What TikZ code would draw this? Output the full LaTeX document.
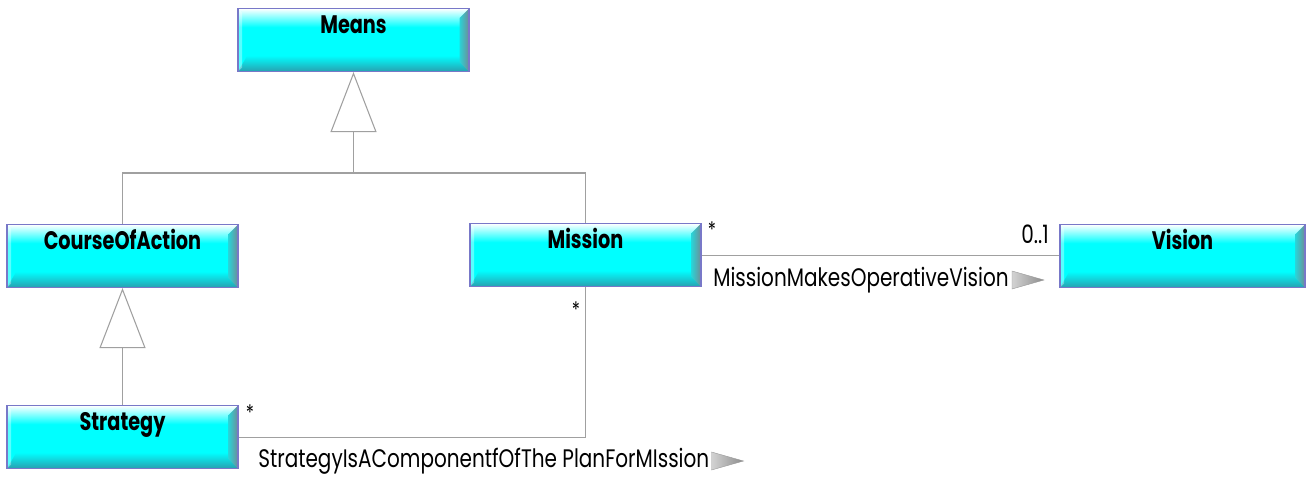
\documentclass[tikz,border=0pt]{standalone}
\usepackage{fontspec}
\usepackage{tikz}
\usetikzlibrary{arrows.meta,calc}
\newfontfamily\umlfont[FakeStretch=0.76]{Poppins}
\newfontfamily\assocfont[FakeStretch=0.79]{Poppins}
\definecolor{boxedge}{RGB}{120,120,200}
\definecolor{boxfill}{RGB}{0,255,255}
\definecolor{boxdark}{RGB}{40,160,175}
\definecolor{bevelgray}{RGB}{110,140,150}
\definecolor{linegray}{RGB}{160,160,160}

\begin{document}
\begin{tikzpicture}[x=0.75pt,y=-0.75pt,
  umlclass/.style={draw=boxedge, fill=boxfill, line width=0.8pt, anchor=north,
    minimum height=47.25pt, inner ysep=3.25pt, text height=15.5pt, text depth=25.25pt,
    font=\umlfont\bfseries\fontsize{19}{22}\selectfont,
    path picture={
      \coordinate (nw) at (path picture bounding box.north west);
      \coordinate (ne) at (path picture bounding box.north east);
      \coordinate (sw) at (path picture bounding box.south west);
      \coordinate (se) at (path picture bounding box.south east);
      \shade[top color=white, bottom color=boxfill] (nw) rectangle ($(ne)+(0,-14pt)$);
      \shade[top color=boxfill, bottom color=boxdark] ($(sw)+(7pt,12pt)$) -- ($(se)+(-7pt,12pt)$) -- (se) -- (sw) -- cycle;
      \shade[left color=boxfill!60!bevelgray, right color=bevelgray] (ne) -- (se) -- ($(se)+(-7pt,7pt)$) -- ($(ne)+(-7pt,-7pt)$) -- cycle;
      \fill[white, opacity=0.35] (nw) -- (sw) -- ($(sw)+(3pt,3pt)$) -- ($(nw)+(3pt,-3pt)$) -- cycle;
    }},
  genline/.style={draw=linegray, line width=0.8pt},
  gentip/.style={-{Triangle[open, length=45pt, width=34.5pt, fill=white]}},
  assoc/.style={draw=linegray, line width=0.8pt},
  mult/.style={font=\assocfont\fontsize{16}{18}\selectfont, inner sep=0pt},
  assoclabel/.style={font=\assocfont\fontsize{19}{22}\selectfont, inner sep=0pt, anchor=west},
  dirtip/.style={left color=gray!35, right color=gray!90, draw=gray!80, line width=0.3pt}]

\useasboundingbox (0,0) rectangle (1309,478);

\node[umlclass, minimum width=173.25pt] (means) at (353.5,8) {Means};
\node[umlclass, minimum width=173.25pt] (coa) at (122.5,224) {CourseOfAction};
\node[umlclass, minimum width=173.25pt] (mission) at (585.5,223) {Mission};
\node[umlclass, minimum width=183.75pt] (vision) at (1182.5,224) {Vision};
\node[umlclass, minimum width=173.25pt] (strategy) at (122.5,405) {Strategy};

\coordinate (bus) at (353.5,173);
\draw[genline] (coa.north) |- (bus) -| (mission.north);
\draw[genline, gentip] (bus) -- (means.south);
\draw[genline, gentip] (strategy.north) -- (coa.south);

\draw[assoc] (mission.east) -- (mission.east -| vision.west);
\draw[assoc] (mission.south) |- (strategy.east);

\node[mult] (mstar1) at (712,230) {*};
\node[mult, font=\assocfont\fontsize{19}{22}\selectfont, anchor=base east] (mzero) at (1049,243) {0..1};
\node[mult] (mstar2) at (576,310) {*};
\node[mult] (mstar3) at (250,413) {*};

\node[assoclabel] (mmov) at (713,280) {MissionMakesOperativeVision};
\shade[dirtip] ($(mmov.east)+(3,-9)$) -- ++(32,9) -- ++(-32,9) -- cycle;
\node[assoclabel] (sicp) at (258,461) {StrategyIsAComponentfOfThe PlanForMIssion};
\shade[dirtip] ($(sicp.east)+(2,-9)$) -- ++(32,9) -- ++(-32,9) -- cycle;

\end{tikzpicture}
\end{document}
